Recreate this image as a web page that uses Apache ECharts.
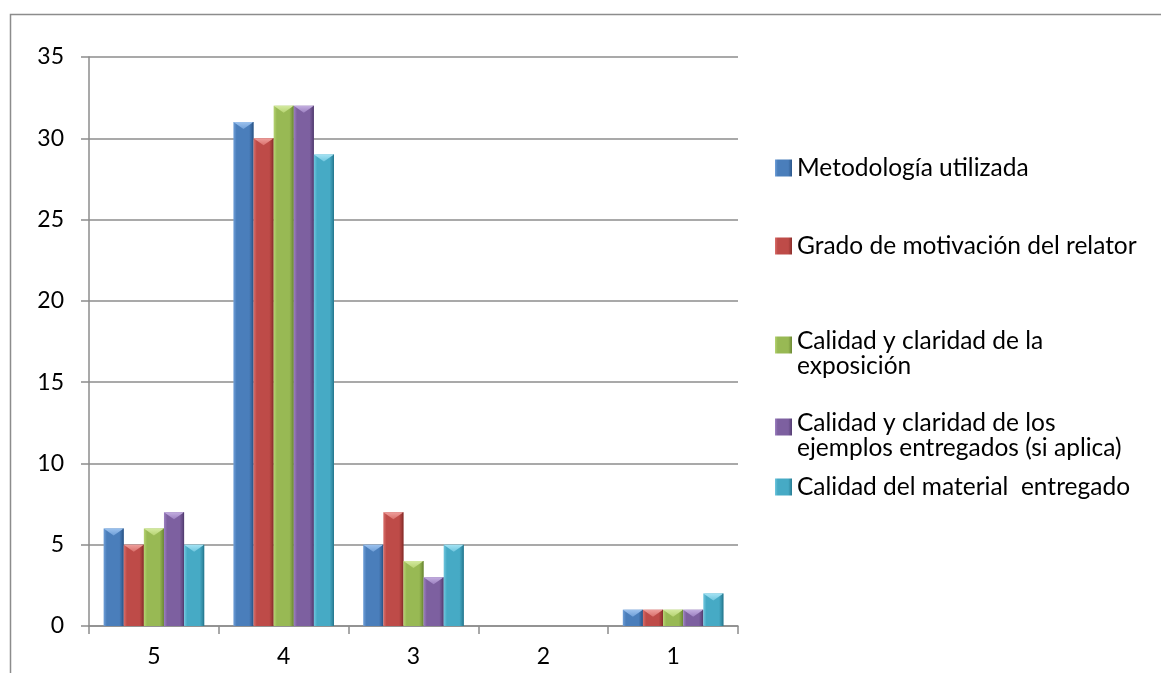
<!DOCTYPE html>
<html>
<head>
<meta charset="utf-8">
<script src="https://cdn.jsdelivr.net/npm/echarts@6/dist/echarts.min.js"></script>
<style>
  html, body { margin: 0; padding: 0; background: #fff; }
  #chart { width: 1161px; height: 673px; }
</style>
</head>
<body>
<div id="chart"></div>
<script>
// Ratings scale shown on the category axis
const categories = ['5', '4', '3', '2', '1'];

// Number of answers per rating, one list per evaluated item
const metodologia = [6, 31, 5, 0, 1];
const motivacion  = [5, 30, 7, 0, 1];
const exposicion  = [6, 32, 4, 0, 1];
const ejemplos    = [7, 32, 3, 0, 1];
const material    = [5, 29, 5, 0, 2];

const seriesNames = [
  'Metodología utilizada',
  'Grado de motivación del relator',
  'Calidad y claridad de la exposición',
  'Calidad y claridad de los ejemplos entregados (si aplica)',
  'Calidad del material  entregado'
];
const legendLines = [
  ['Metodología utilizada'],
  ['Grado de motivación del relator'],
  ['Calidad y claridad de la', 'exposición'],
  ['Calidad y claridad de los', 'ejemplos entregados (si aplica)'],
  ['Calidad del material  entregado']
];
const yTicks = [0, 5, 10, 15, 20, 25, 30, 35];

const seriesData = [metodologia, motivacion, exposicion, ejemplos, material];
// light, body, dark and highlight tones for each bevelled bar
const palette = [
  { light: '#6f9fd8', body: '#4a7ebb', dark: '#2b5689', top: '#9cc2ee' },
  { light: '#d96f6b', body: '#be4b48', dark: '#8a2e2b', top: '#ee9f9c' },
  { light: '#b6d372', body: '#98b954', dark: '#6c8934', top: '#d4eaa0' },
  { light: '#9c80c0', body: '#7d60a0', dark: '#543d72', top: '#c3aee0' },
  { light: '#70c6de', body: '#46aac5', dark: '#287b92', top: '#a4e3f4' }
];

const FONT = 'Lato, "Open Sans", sans-serif';
const GROUP = 0.775;           // share of a category taken by the bar group
const N = seriesData.length;
const LINE_H = 25;
const SPACER_H = 17;

function sideFill(c) {
  return new echarts.graphic.LinearGradient(0, 0, 1, 0, [
    { offset: 0, color: c.light },
    { offset: 0.16, color: c.body },
    { offset: 0.78, color: c.body },
    { offset: 1, color: c.dark }
  ]);
}

// Bar with a bevelled top: body rectangle plus a lit triangular cap.
function makeRenderer(idx) {
  const c = palette[idx];
  return function (params, api) {
    const cat = api.value(0);
    const val = api.value(1);
    if (!(val > 0)) return null;
    const base = api.coord([cat, 0]);
    const top = api.coord([cat, val]);
    const cw = api.size([1, 0])[0];
    const bw = cw * GROUP / N;
    const x0 = base[0] - cw * GROUP / 2 + idx * bw;
    const x1 = x0 + bw;
    const h = base[1] - top[1];
    const bev = Math.min(7, h * 0.45);
    return {
      type: 'group',
      children: [
        {
          type: 'rect',
          shape: { x: x0, y: top[1], width: bw, height: h },
          style: { fill: sideFill(c) }
        },
        {
          type: 'polygon',
          shape: { points: [[x0, top[1]], [x1, top[1]], [(x0 + x1) / 2, top[1] + bev]] },
          style: {
            fill: new echarts.graphic.LinearGradient(0, 0, 0, 1, [
              { offset: 0, color: c.top },
              { offset: 1, color: c.light }
            ])
          }
        },
        {
          type: 'rect',
          shape: { x: x1 - 1, y: top[1], width: 1, height: h },
          style: { fill: c.dark, opacity: 0.7 }
        }
      ]
    };
  };
}

// Two-line labels get a blank rich line on top so the icon sits beside the first line.
function legendText(lines) {
  if (lines.length === 1) return '{t|' + lines[0] + '}';
  return '{e| }\n' + lines.map(l => '{t|' + l + '}').join('\n');
}

// icon centre heights of each legend entry
const legendCentres = [168, 246, 340, 422, 487];
const legends = seriesNames.map((name, i) => {
  const multi = legendLines[i].length > 1;
  return {
    data: [name],
    orient: 'vertical',
    left: 775,
    top: legendCentres[i] - (multi ? 28.5 : 0.5 * LINE_H),
    padding: 0,
    itemWidth: 17,
    itemHeight: 17,
    itemGap: 0,
    selectedMode: false,
    icon: 'rect',
    formatter: () => legendText(legendLines[i]),
    textStyle: {
      fontFamily: FONT,
      fontSize: 24.5,
      color: '#000',
      lineHeight: LINE_H,
      rich: {
        t: { fontFamily: FONT, fontSize: 24.5, color: '#000', lineHeight: LINE_H, height: LINE_H },
        e: { fontFamily: FONT, fontSize: 12, lineHeight: SPACER_H, height: SPACER_H }
      }
    }
  };
});

const chart = echarts.init(document.getElementById('chart'), null, { renderer: 'canvas' });
chart.setOption({
  animation: false,
  backgroundColor: '#fff',
  graphic: [{
    type: 'rect',
    left: 8, top: 12,
    shape: { width: 1400, height: 900 },
    style: { fill: 'none', stroke: '#8c8c8c', lineWidth: 1.5 },
    silent: true,
    z: -10
  }],
  legend: legends,
  grid: { left: 89, right: 423, top: 57, bottom: 47, containLabel: false },
  xAxis: {
    type: 'category',
    data: categories,
    axisLine: { lineStyle: { color: '#8c8c8c', width: 1.5 } },
    axisTick: { show: true, length: 8, lineStyle: { color: '#8c8c8c', width: 1.5 } },
    axisLabel: { fontFamily: FONT, fontSize: 23, color: '#000', margin: 19 }
  },
  yAxis: {
    type: 'value',
    min: yTicks[0],
    max: yTicks[yTicks.length - 1],
    interval: 5,
    axisLine: { show: true, lineStyle: { color: '#8c8c8c', width: 1.5 } },
    axisTick: { show: true, length: 8, lineStyle: { color: '#8c8c8c', width: 1.5 } },
    axisLabel: { fontFamily: FONT, fontSize: 23, color: '#000', margin: 25 },
    splitLine: { lineStyle: { color: '#8c8c8c', width: 1.5 } }
  },
  series: seriesData.map((d, i) => ({
    name: seriesNames[i],
    type: 'custom',
    renderItem: makeRenderer(i),
    encode: { x: 0, y: 1 },
    data: d.map((v, k) => [k, v]),
    itemStyle: { color: sideFill(palette[i]) },
    z: 3
  }))
});
</script>
</body>
</html>
